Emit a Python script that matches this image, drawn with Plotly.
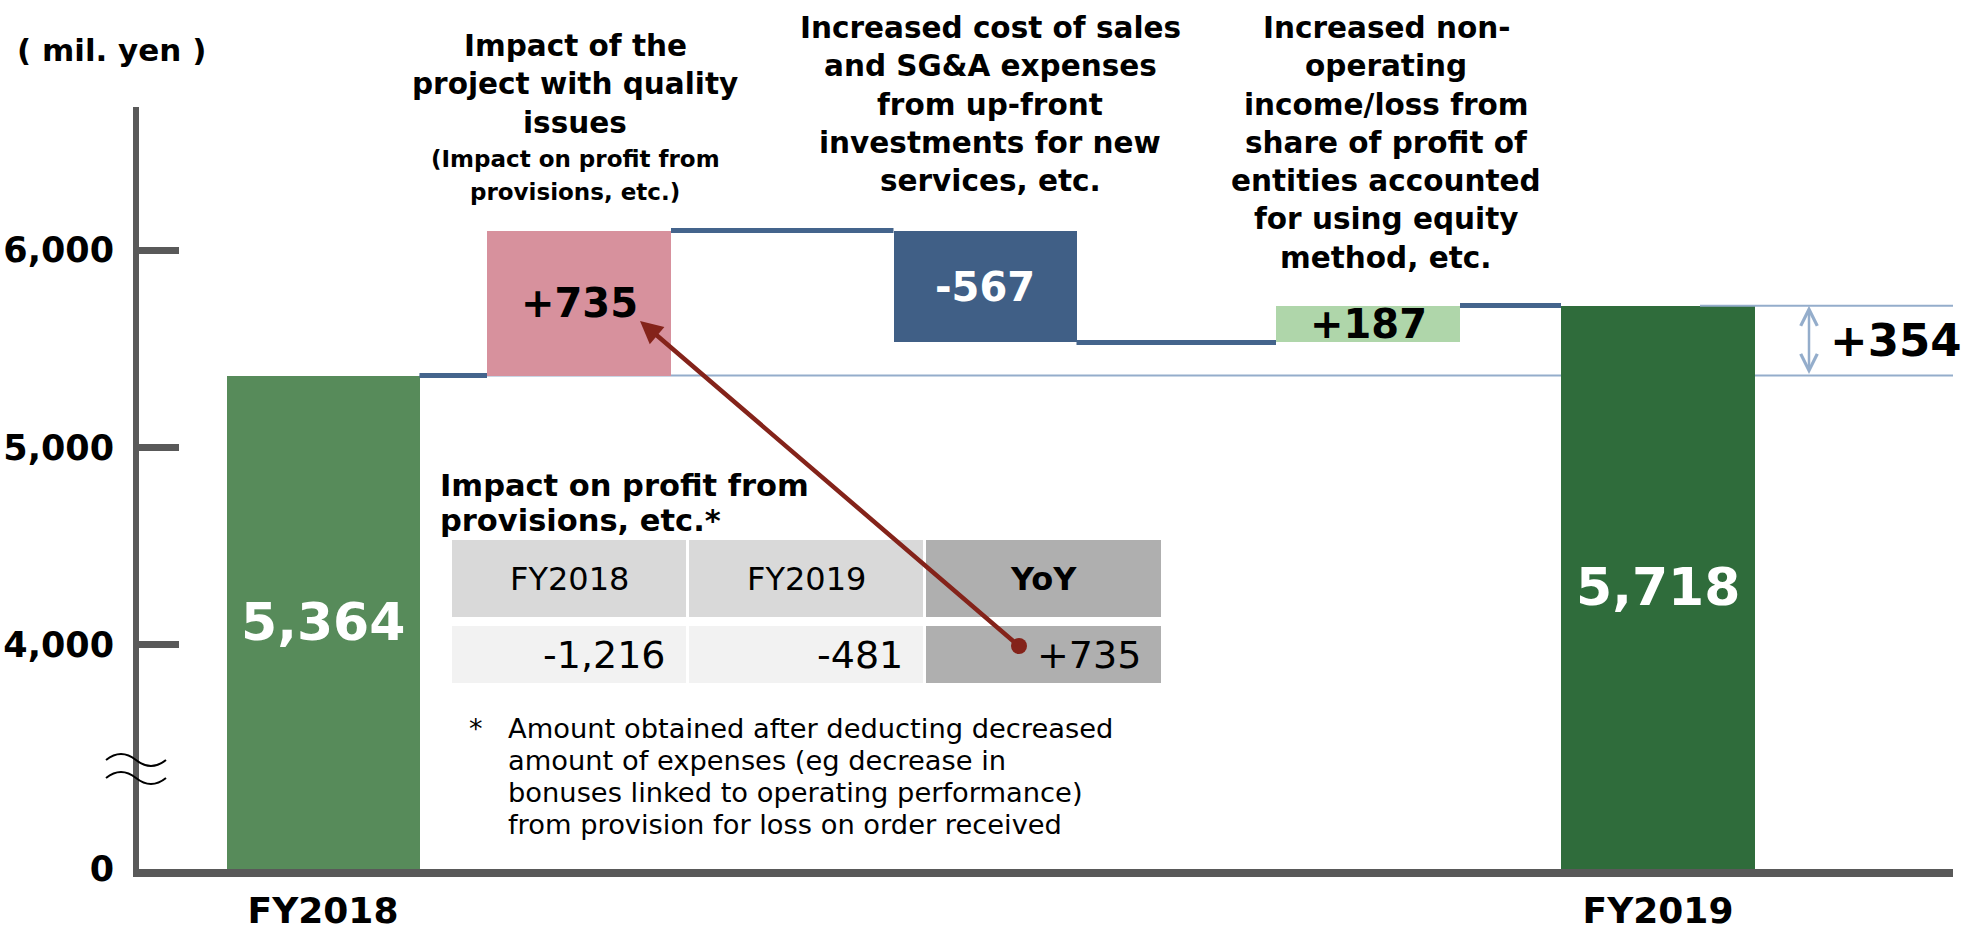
import plotly.graph_objects as go

# ------------------------------------------------------------------ data
UNIT = "( mil. yen )"
PERIODS = ["FY2018", "FY2019"]
START_VALUE = 5364
END_VALUE = 5718
STEP_VALUES = [735, -567, 187]
STEP_TITLES = [
    ["Impact of the", "project with quality", "issues"],
    ["Increased cost of sales", "and SG&amp;A expenses", "from up-front",
     "investments for new", "services, etc."],
    ["Increased non-", "operating", "income/loss from", "share of profit of",
     "entities accounted", "for using equity", "method, etc."],
]
STEP_SUBTITLES = [["(Impact on profit from", "provisions, etc.)"], [], []]
Y_TICKS = [4000, 5000, 6000]
TABLE_TITLE = ["Impact on profit from", "provisions, etc.*"]
TABLE_HEADERS = ["FY2018", "FY2019", "YoY"]
TABLE_VALUES = [-1216, -481, 735]
FOOTNOTE = [
    "Amount obtained after deducting decreased",
    "amount of expenses (eg decrease in",
    "bonuses linked to operating performance)",
    "from provision for loss on order received",
]

# ------------------------------------------------------------------ layout / style
FONT = "DejaVu Sans"
W, H = 1968, 933
ML, MR, MT, MB = 139, 15, 107, 64
PW, PH = W - ML - MR, H - MT - MB
Y_FLOOR, Y_TOP = 2864, 6725          # broken axis: floor is drawn as "0"
SLOT_X = [184, 440, 846, 1229, 1519]
SLOT_W = [193, 184, 183, 184, 194]
TITLE_X = [436, 851, 1247]
TITLE_TOP = [46, 28, 28]
BAR_COLORS = ["#578b5a", "#d7919d", "#405f86", "#afd6aa", "#2f6c3b"]
LABEL_COLORS = ["white", "black", "white", "black", "white"]
CONN = "#44648c"
THIN = "#94adcb"
AXIS = "#595959"
RED = "#84231a"


def paper_x(px):
    return (px - ML) / PW


def paper_y(py):
    return (H - MB - py) / PH


def fmt_signed(v):
    return ("+" if v > 0 else "") + f"{v:,}"


fig = go.Figure()

# ------------------------------------------------------------------ bars
levels = [START_VALUE]
for d in STEP_VALUES:
    levels.append(levels[-1] + d)
bases = [0] + levels[:-1] + [0]
heights = [START_VALUE] + STEP_VALUES + [END_VALUE]

fig.add_trace(go.Bar(
    x=SLOT_X, y=heights, base=bases, width=SLOT_W,
    marker=dict(color=BAR_COLORS, line=dict(width=0)),
    hoverinfo="skip", showlegend=False,
))

# thin reference lines (start level / end level)
fig.add_shape(type="line", xref="x", yref="y", layer="below",
              x0=SLOT_X[0] + SLOT_W[0] / 2, x1=1830,
              y0=START_VALUE, y1=START_VALUE, line=dict(color=THIN, width=2))
fig.add_shape(type="line", xref="x", yref="y",
              x0=1561, x1=1830, y0=END_VALUE, y1=END_VALUE,
              line=dict(color=THIN, width=2))

# connectors
for i in range(len(levels)):
    x0 = SLOT_X[i] + SLOT_W[i] / 2
    x1 = SLOT_X[i + 1] - SLOT_W[i + 1] / 2
    fig.add_shape(type="line", xref="x", yref="y", x0=x0, x1=x1,
                  y0=levels[i], y1=levels[i], line=dict(color=CONN, width=5))

# bar value labels
for i, (b, h) in enumerate(zip(bases, heights)):
    if i in (0, len(heights) - 1):
        yc = (Y_FLOOR + h) / 2
        txt = "<b>%s</b>" % f"{h:,}"
        fnt = dict(family=FONT, size=52, color=LABEL_COLORS[i])
    else:
        yc = b + h / 2
        txt = "<b>" + fmt_signed(h) + "</b>"
        fnt = dict(family=FONT, size=40, color=LABEL_COLORS[i])
    fig.add_annotation(x=SLOT_X[i], y=yc, xref="x", yref="y", text=txt,
                       showarrow=False, font=fnt, xanchor="center", yanchor="middle")

# net change marker
fig.add_annotation(x=1670, y=END_VALUE, ax=1670, ay=START_VALUE,
                   xref="x", yref="y", axref="x", ayref="y", text="",
                   showarrow=True, arrowside="end+start", arrowhead=5,
                   startarrowhead=5, arrowsize=1.3, startarrowsize=1.3,
                   arrowwidth=2.5, arrowcolor=THIN, standoff=0, startstandoff=0)
fig.add_annotation(x=1757, y=(START_VALUE + END_VALUE) / 2, xref="x", yref="y",
                   text="<b>" + fmt_signed(END_VALUE - START_VALUE) + "</b>",
                   showarrow=False, xanchor="center", yanchor="middle",
                   font=dict(family=FONT, size=45, color="black"))


def text_lines(lines, x, y0, dy, size, bold=True, xref="x", xanchor="center"):
    for k, s in enumerate(lines):
        fig.add_annotation(x=x, y=paper_y(y0 + k * dy), xref=xref, yref="paper",
                           text=("<b>%s</b>" % s) if bold else s, showarrow=False,
                           xanchor=xanchor, yanchor="middle",
                           font=dict(family=FONT, size=size, color="black"))


# step descriptions above the bars
for j, lines in enumerate(STEP_TITLES):
    text_lines(lines, TITLE_X[j], TITLE_TOP[j], 38.3, 29.5)
    if STEP_SUBTITLES[j]:
        y_sub = TITLE_TOP[j] + len(lines) * 38.3 - 2
        text_lines(STEP_SUBTITLES[j], TITLE_X[j], y_sub, 33, 23)

# unit label
text_lines([UNIT], paper_x(15), 50, 0, 31, xref="paper", xanchor="left")

# ------------------------------------------------------------------ provisions table
text_lines(TABLE_TITLE, paper_x(438), 485, 35, 30.5, xref="paper", xanchor="left")
COLS = [(452, 686), (689, 923), (926, 1161)]
HEAD_Y = (540, 617)
DATA_Y = (626, 683)
HEAD_FILL = ["#d9d9d9", "#d9d9d9", "#afafaf"]
DATA_FILL = ["#f2f2f2", "#f2f2f2", "#afafaf"]
for c, (x0, x1) in enumerate(COLS):
    for (y0, y1), fill in ((HEAD_Y, HEAD_FILL[c]), (DATA_Y, DATA_FILL[c])):
        fig.add_shape(type="rect", xref="paper", yref="paper",
                      x0=paper_x(x0), x1=paper_x(x1), y0=paper_y(y1), y1=paper_y(y0),
                      fillcolor=fill, line=dict(width=0))
    head = TABLE_HEADERS[c]
    if c == len(COLS) - 1:
        head = "<b>%s</b>" % head
    fig.add_annotation(x=paper_x((x0 + x1) / 2), y=paper_y(sum(HEAD_Y) / 2),
                       xref="paper", yref="paper", text=head, showarrow=False,
                       xanchor="center", yanchor="middle",
                       font=dict(family=FONT, size=32, color="black"))
    fig.add_annotation(x=paper_x(x1 - 18), y=paper_y(sum(DATA_Y) / 2),
                       xref="paper", yref="paper", text=fmt_signed(TABLE_VALUES[c]),
                       showarrow=False, xanchor="right", yanchor="middle",
                       font=dict(family=FONT, size=38, color="black"))

# arrow from table YoY to the step bar
fig.add_annotation(x=paper_x(640), y=paper_y(321), xref="paper", yref="paper",
                   ax=1019 - 640, ay=646 - 321, text="", showarrow=True,
                   arrowhead=2, arrowsize=1.0, arrowwidth=4.5, arrowcolor=RED,
                   standoff=0)
fig.add_shape(type="circle", xref="paper", yref="paper",
              xsizemode="pixel", ysizemode="pixel",
              xanchor=paper_x(1019), yanchor=paper_y(646),
              x0=-8, x1=8, y0=-8, y1=8, fillcolor=RED, line=dict(width=0))

# footnote
text_lines(["*"], paper_x(467), 728, 0, 27, bold=False, xref="paper", xanchor="left")
text_lines(FOOTNOTE, paper_x(506), 728, 32.3, 27.3, bold=False, xref="paper", xanchor="left")

# axis break symbol
for yb in (760, 778):
    p = "M {},{} Q {},{} {},{} T {},{}".format(
        paper_x(106), paper_y(yb),
        paper_x(121), paper_y(yb - 12),
        paper_x(136), paper_y(yb),
        paper_x(166), paper_y(yb))
    fig.add_shape(type="path", xref="paper", yref="paper", path=p,
                  line=dict(color="black", width=2))

# ------------------------------------------------------------------ axes
fig.update_layout(
    width=W, height=H,
    margin=dict(l=ML, r=MR, t=MT, b=MB, pad=0),
    paper_bgcolor="white", plot_bgcolor="white",
    showlegend=False, bargap=0,
    xaxis=dict(range=[0, PW], showgrid=False, zeroline=False, automargin=False,
               showline=True, linewidth=8, linecolor=AXIS,
               tickvals=[SLOT_X[0], SLOT_X[-1]],
               ticktext=["<b>%s</b>" % p for p in PERIODS],
               ticks="", ticklabelstandoff=3,
               tickfont=dict(family=FONT, size=36, color="black"),
               fixedrange=True),
    yaxis=dict(range=[Y_FLOOR, Y_TOP], showgrid=False, zeroline=False, automargin=False,
               showline=True, linewidth=6, linecolor=AXIS,
               tickvals=[Y_FLOOR] + Y_TICKS,
               ticktext=["<b>0</b>"] + ["<b>%s</b>" % f"{v:,}" for v in Y_TICKS],
               ticks="inside", ticklen=40, tickwidth=7, tickcolor=AXIS,
               ticklabelstandoff=12,
               tickfont=dict(family=FONT, size=35, color="black"),
               fixedrange=True),
)

fig.write_html("out.html", config={"displayModeBar": False},
               post_script="document.body.style.margin='0';")
